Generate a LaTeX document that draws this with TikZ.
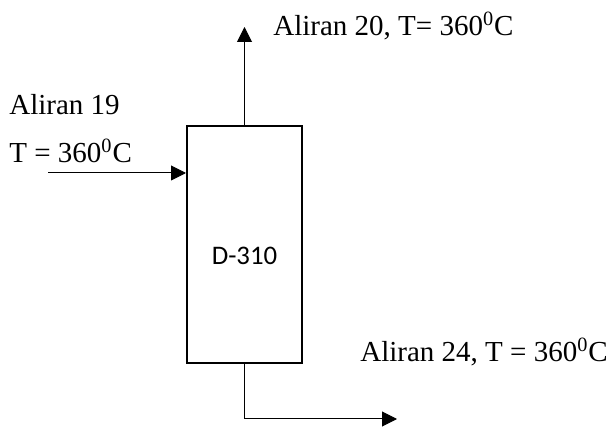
\documentclass[tikz,border=0pt]{standalone}
\usepackage{fontspec}
\setmainfont{Liberation Serif}
\newfontfamily\calfont{Carlito}
\usetikzlibrary{positioning,arrows.meta,calc}

\begin{document}
\begin{tikzpicture}[
  x=0.5pt,y=-0.5pt,
  vessel/.style={draw,line width=1pt,minimum width=57.5pt,minimum height=118.5pt,inner sep=0pt},
  tag/.style={font=\calfont\fontsize{13.4}{15}\selectfont,inner sep=0pt},
  lbl/.style={anchor=base west,inner sep=0pt,font=\fontsize{14.5}{17}\selectfont},
  ar/.style={-{Triangle[length=7.5pt,width=7.5pt]},line width=0.5pt}
]
\useasboundingbox (0,0) rectangle (611,427);
\node[vessel] (d) at (244.5,244.5) {};
\node[tag,anchor=base] (dn) at (244.5,265) {D-310};

\coordinate (feed) at (48,173);
\coordinate (vap) at (244.5,27);
\coordinate (liq) at (397,419);

\node[lbl] (l20) at (273,36) {Aliran 20, T= 360\textsuperscript{0}C};
\node[lbl] (l19) at (9,115) {Aliran 19};
\node[lbl] (t19) at (9,163) {T = 360\textsuperscript{0}C};
\node[lbl] (l24) at (360,362) {Aliran 24, T = 360\textsuperscript{0}C};

\draw[ar] (feed) -- (d.west |- feed);
\draw[ar] (d.north) -- (vap);
\draw[ar] (d.south) |- (liq);
\end{tikzpicture}
\end{document}
